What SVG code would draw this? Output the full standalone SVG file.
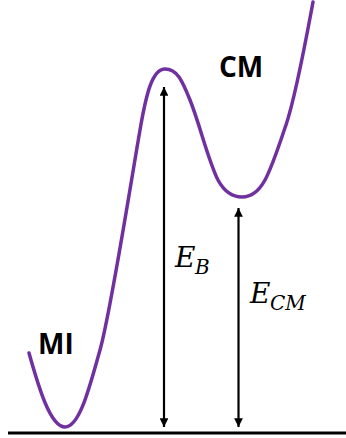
<svg xmlns="http://www.w3.org/2000/svg" width="346" height="438" viewBox="0 0 346 438">
<defs>
<marker id="ah" viewBox="0 0 10 10" refX="10" refY="5" markerWidth="4" markerHeight="4" orient="auto-start-reverse" markerUnits="strokeWidth">
<path d="M0,0 L10,5 L0,10 z" fill="#000"/>
</marker>
<style>
.curve{fill:none;stroke:#7030A0;stroke-width:3.5;stroke-linecap:round}
.arr{stroke:#000;stroke-width:2.2;fill:none}
.lbl{font-family:"Open Sans","Liberation Sans",Arial,sans-serif;font-weight:bold;font-size:28px;fill:#000}
.math{font-family:"DejaVu Serif","Liberation Serif",serif;font-style:italic;fill:#000}
</style>
</defs>
<g id="baseline"><line x1="8" y1="433" x2="346" y2="433" stroke="#000" stroke-width="3"/></g>
<g id="energy-curve"><path class="curve" d="M29,353 C38,385 50,427 65,427 C80,427 90,385 100,350 C110,315 128,200 140,130 C146,95 152,69 165,69 C177,69 182,80 190,100 C200,125 208,160 218,180 C225,193 233,197 242,197 C252,197 259,191 265,180 C273,165 281,139 286,125 C296,95 305,45 313,2"/></g>
<g id="connectors">
<line class="arr" x1="164" y1="87" x2="164" y2="427" marker-start="url(#ah)" marker-end="url(#ah)"/>
<line class="arr" x1="238.5" y1="208" x2="238.5" y2="427" marker-start="url(#ah)" marker-end="url(#ah)"/>
</g>
<g id="MI"><text class="lbl" x="38" y="354">MI</text></g>
<g id="CM"><text class="lbl" x="219" y="77">CM</text></g>
<g id="EB"><text class="math" x="175" y="267" font-size="28">E</text><text class="math" x="195" y="274" font-size="20">B</text></g>
<g id="ECM"><text class="math" x="250" y="303" font-size="28">E</text><text class="math" x="270" y="310" font-size="20">CM</text></g>
</svg>
